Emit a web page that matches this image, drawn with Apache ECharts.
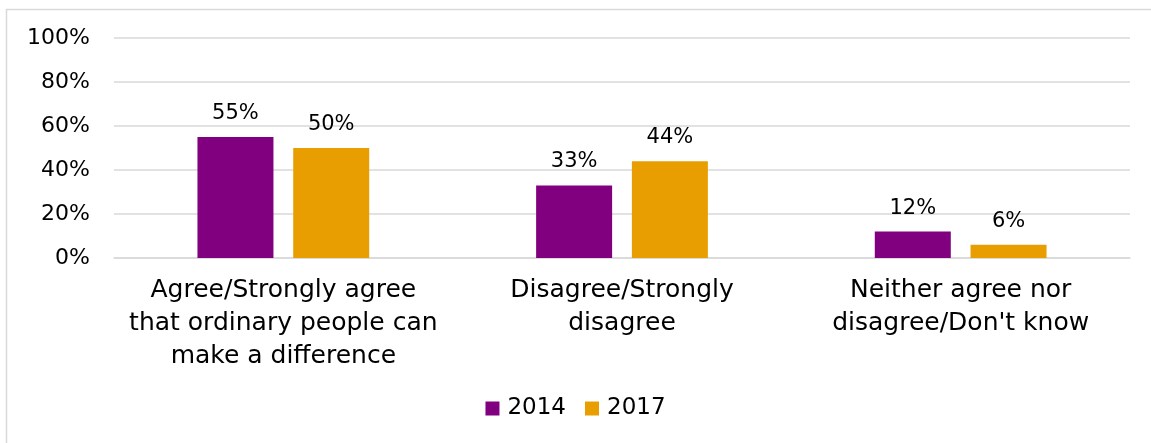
<!DOCTYPE html>
<html>
<head>
<meta charset="utf-8">
<script src="https://cdn.jsdelivr.net/npm/echarts@6/dist/echarts.min.js"></script>
<style>
html,body{margin:0;padding:0;background:#fff;}
#c{width:1151px;height:443px;}
</style>
</head>
<body>
<div id="c"></div>
<script>
const categories = ["Agree/Strongly agree\nthat ordinary people can\nmake a difference", "Disagree/Strongly\ndisagree", "Neither agree nor\ndisagree/Don't know"];
const seriesNames = ["2014", "2017"];
const values2014 = [55, 33, 12];
const values2017 = [50, 44, 6];
const yTicks = [0, 20, 40, 60, 80, 100];

const FONT = "DejaVu Sans";
const chart = echarts.init(document.getElementById('c'), null, {renderer: 'canvas'});
const labelCfg = {
  show: true, position: 'top', distance: 13,
  formatter: p => p.value + '%',
  fontFamily: FONT, fontSize: 21, color: '#000'
};
chart.setOption({
  animation: false,
  backgroundColor: '#fff',
  graphic: [{
    type: 'rect', shape: {x: 6.5, y: 9.5, width: 1200, height: 500},
    style: {fill: 'none', stroke: '#d9d9d9', lineWidth: 1.5}, silent: true, z: -10
  }],
  grid: {left: 114, right: 21, top: 38, bottom: 185, containLabel: false},
  legend: {
    data: seriesNames, bottom: 18, left: 'center',
    itemWidth: 14, itemHeight: 14, itemGap: 19,
    icon: 'rect',
    textStyle: {fontFamily: FONT, fontSize: 23, color: '#000', padding: [0,0,0,3]}
  },
  xAxis: {
    type: 'category', data: categories,
    axisLine: {lineStyle: {color: '#d9d9d9', width: 1.5}},
    axisTick: {show: false},
    axisLabel: {fontFamily: FONT, fontSize: 25, color: '#000', lineHeight: 33, margin: 16, interval: 0}
  },
  yAxis: {
    type: 'value', min: 0, max: 100, interval: 20,
    axisLabel: {fontFamily: FONT, fontSize: 22, color: '#000', formatter: v => v + '%', margin: 24},
    splitLine: {lineStyle: {color: '#d9d9d9', width: 1.5}},
    axisLine: {show: false}, axisTick: {show: false}
  },
  series: [
    {name: seriesNames[0], type: 'bar', data: values2014, barWidth: 76, barGap: '26%',
     itemStyle: {color: '#800080'}, label: labelCfg},
    {name: seriesNames[1], type: 'bar', data: values2017, barWidth: 76,
     itemStyle: {color: '#E89E00'}, label: labelCfg}
  ]
});
</script>
</body>
</html>
